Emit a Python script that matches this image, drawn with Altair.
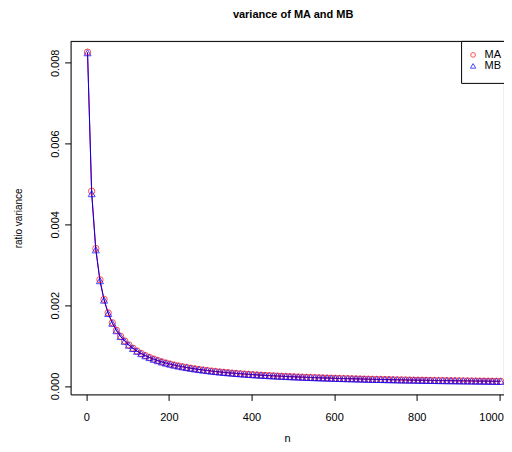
import altair as alt
import pandas as pd

n_values = list(range(3, 1004, 10))

ma_e4 = [82.64, 48.21, 34.03, 26.30, 21.43, 18.08, 15.64, 13.77, 12.31, 11.13,
         10.15, 9.33, 8.63, 8.03, 7.51, 7.05, 6.65, 6.29, 5.96, 5.67,
         5.41, 5.17, 4.94, 4.74, 4.56, 4.38, 4.22, 4.07, 3.94, 3.81,
         3.68, 3.57, 3.46, 3.36, 3.27, 3.18, 3.09, 3.01, 2.94, 2.86,
         2.79, 2.73, 2.67, 2.61, 2.55, 2.49, 2.44, 2.39, 2.34, 2.30,
         2.25, 2.21, 2.17, 2.13, 2.09, 2.05, 2.02, 1.98, 1.95, 1.92,
         1.88, 1.85, 1.82, 1.80, 1.77, 1.74, 1.72, 1.69, 1.67, 1.64,
         1.62, 1.60, 1.58, 1.56, 1.53, 1.51, 1.49, 1.48, 1.46, 1.44,
         1.42, 1.40, 1.39, 1.37, 1.35, 1.34, 1.32, 1.31, 1.29, 1.28,
         1.27, 1.25, 1.24, 1.23, 1.21, 1.20, 1.19, 1.18, 1.16, 1.15, 1.14]

mb_e4 = [82.50, 47.60, 33.70, 26.05, 21.25, 17.95, 15.52, 13.68, 12.23, 11.06,
         10.09, 9.28, 8.58, 7.99, 7.47, 7.02, 6.62, 6.26, 5.93, 5.65,
         5.39, 5.15, 4.93, 4.73, 4.55, 4.37, 4.21, 4.06, 3.93, 3.80,
         3.67, 3.56, 3.45, 3.35, 3.26, 3.17, 3.09, 3.01, 2.93, 2.86,
         2.79, 2.72, 2.66, 2.60, 2.54, 2.49, 2.44, 2.39, 2.34, 2.29,
         2.25, 2.21, 2.17, 2.13, 2.09, 2.05, 2.01, 1.98, 1.95, 1.91,
         1.88, 1.85, 1.82, 1.79, 1.77, 1.74, 1.71, 1.69, 1.66, 1.64,
         1.62, 1.60, 1.57, 1.55, 1.53, 1.51, 1.49, 1.47, 1.45, 1.44,
         1.42, 1.40, 1.38, 1.37, 1.35, 1.33, 1.32, 1.30, 1.29, 1.28,
         1.26, 1.25, 1.24, 1.22, 1.21, 1.20, 1.19, 1.17, 1.16, 1.15, 1.14]

x_ticks = [0, 200, 400, 600, 800, 1000]
y_ticks = [0.000, 0.002, 0.004, 0.006, 0.008]
legend_labels = ["MA", "MB"]

df_ma = pd.DataFrame({"n": n_values, "v": [v * 1e-4 for v in ma_e4]})
df_mb = pd.DataFrame({"n": n_values, "v": [v * 1e-4 for v in mb_e4]})

W, H = 433, 353
FONT = "Liberation Sans"

xs = alt.Scale(domain=[-38, 1010.4], nice=False, zero=False)
ys = alt.Scale(domain=[-0.00021, 0.00853], nice=False, zero=False)

xaxis = alt.Axis(values=x_ticks, format="d", title="n", grid=False, tickSize=6, tickColor="black",
                 domainColor="black", labelFont=FONT, labelFontSize=11, labelColor="black",
                 labelPadding=11, titleFont=FONT, titleFontSize=11, titleFontWeight="normal",
                 titleColor="black", titlePadding=10, labelFlush=8, labelFlushOffset=4)
yaxis = alt.Axis(values=y_ticks, format=".3f", title="ratio variance", grid=False, tickSize=6,
                 tickColor="black", domainColor="black", labelFont=FONT, labelFontSize=11,
                 labelColor="black", labelAngle=270, labelAlign="center", labelBaseline="bottom",
                 labelPadding=4, titleFont=FONT, titleFontSize=10, titleFontWeight="normal",
                 titleColor="black", titlePadding=26, labelFlush=False)

base_x = alt.X("n:Q", scale=xs, axis=xaxis)
base_y = alt.Y("v:Q", scale=ys, axis=yaxis)

line_ma = alt.Chart(df_ma).mark_line(color="red", strokeWidth=1).encode(x=base_x, y=base_y)
pts_ma = alt.Chart(df_ma).mark_point(shape="circle", color="red", filled=False, size=40,
                                     strokeWidth=1).encode(x=base_x, y=base_y)
line_mb = alt.Chart(df_mb).mark_line(color="blue", strokeWidth=1).encode(x=base_x, y=base_y)
pts_mb = alt.Chart(df_mb).mark_point(shape="triangle-up", color="blue", filled=False, size=50,
                                     strokeWidth=1).encode(x=base_x, y=base_y)

top_rule = alt.Chart(pd.DataFrame({"a": [0]})).mark_rule(color="black", strokeWidth=1).encode(
    x=alt.value(0), x2=alt.value(W), y=alt.value(0))

leg_df = pd.DataFrame({"a": [0]})
leg_box = alt.Chart(leg_df).mark_rect(fill="white", stroke="black", strokeWidth=1).encode(
    x=alt.value(391), x2=alt.value(W + 4), y=alt.value(0), y2=alt.value(42))
leg_items = pd.DataFrame({"label": legend_labels, "yy": [13.5, 24.5]})
leg_sym_ma = alt.Chart(pd.DataFrame({"label": [legend_labels[0]]})).mark_point(
    shape="circle", color="red", filled=False, size=22, strokeWidth=1).encode(
    x=alt.value(402.5), y=alt.value(13.5))
leg_sym_mb = alt.Chart(pd.DataFrame({"label": [legend_labels[1]]})).mark_point(
    shape="triangle-up", color="blue", filled=False, size=28, strokeWidth=1).encode(
    x=alt.value(402.5), y=alt.value(24.5))
leg_text = alt.Chart(leg_items).mark_text(align="left", baseline="middle", font=FONT,
                                          fontSize=11, color="black").encode(
    x=alt.value(414), y=alt.Y("yy:Q", scale=None), text="label:N")

chart = alt.layer(line_ma, line_mb, pts_ma, pts_mb, top_rule, leg_box, leg_sym_ma,
                  leg_sym_mb, leg_text).properties(
    width=W, height=H,
    title=alt.TitleParams("variance of MA and MB", font=FONT, fontSize=11,
                          fontWeight="bold", color="black", anchor="middle", offset=21, dx=6),
    autosize=alt.AutoSizeParams(type="none"),
    padding={"left": 62.6, "top": 33.4, "right": 0, "bottom": 49.5},
).configure_view(stroke=None).configure(background="white")

chart.save("out.html", embed_options={"renderer": "svg", "actions": False})
